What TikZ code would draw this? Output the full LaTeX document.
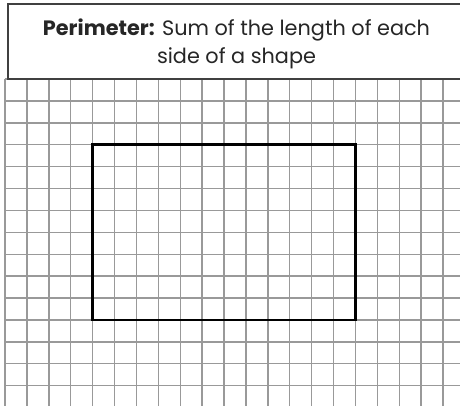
\documentclass[tikz,border=0pt]{standalone}
\usepackage{fontspec}
\setmainfont{Poppins}
\usepackage{tikz}
\usetikzlibrary{positioning}
\colorlet{cGrid}{black!40}
\colorlet{cText}{black!85}
\tikzset{
  gridline/.style={line width=1.4pt, color=cGrid},
  shapebox/.style={line width=2.8pt, color=black},
  headerbox/.style={draw=black!75, line width=1.4pt, fill=white, inner sep=0pt,
    minimum width=457pt, minimum height=75pt},
  headertext/.style={align=center, text=cText, inner sep=0pt,
    font=\fontsize{20.8}{28}\selectfont}
}

\begin{document}
\begin{tikzpicture}[x=1pt,y=-1pt]
  \useasboundingbox (0,0) rectangle (460,405);
  % Papel quadriculado
  \foreach \i in {0,...,21}
    \draw[gridline] ({5+21.9*\i},79) -- ({5+21.9*\i},410);
  \foreach \k in {0,...,15}
    \draw[gridline] (5,{79+21.9*\k}) -- (470,{79+21.9*\k});
  % Retangulo
  \draw[shapebox] (92.6,144.7) rectangle (355.4,319.9);
  % Caixa do titulo
  \node[headerbox] (header) at (236.5,41.5) {};
  \node[headertext] (title) at (236.5,44) 
    {\textbf{Perimeter:} Sum of the length of each\\side of a shape};
\end{tikzpicture}
\end{document}
